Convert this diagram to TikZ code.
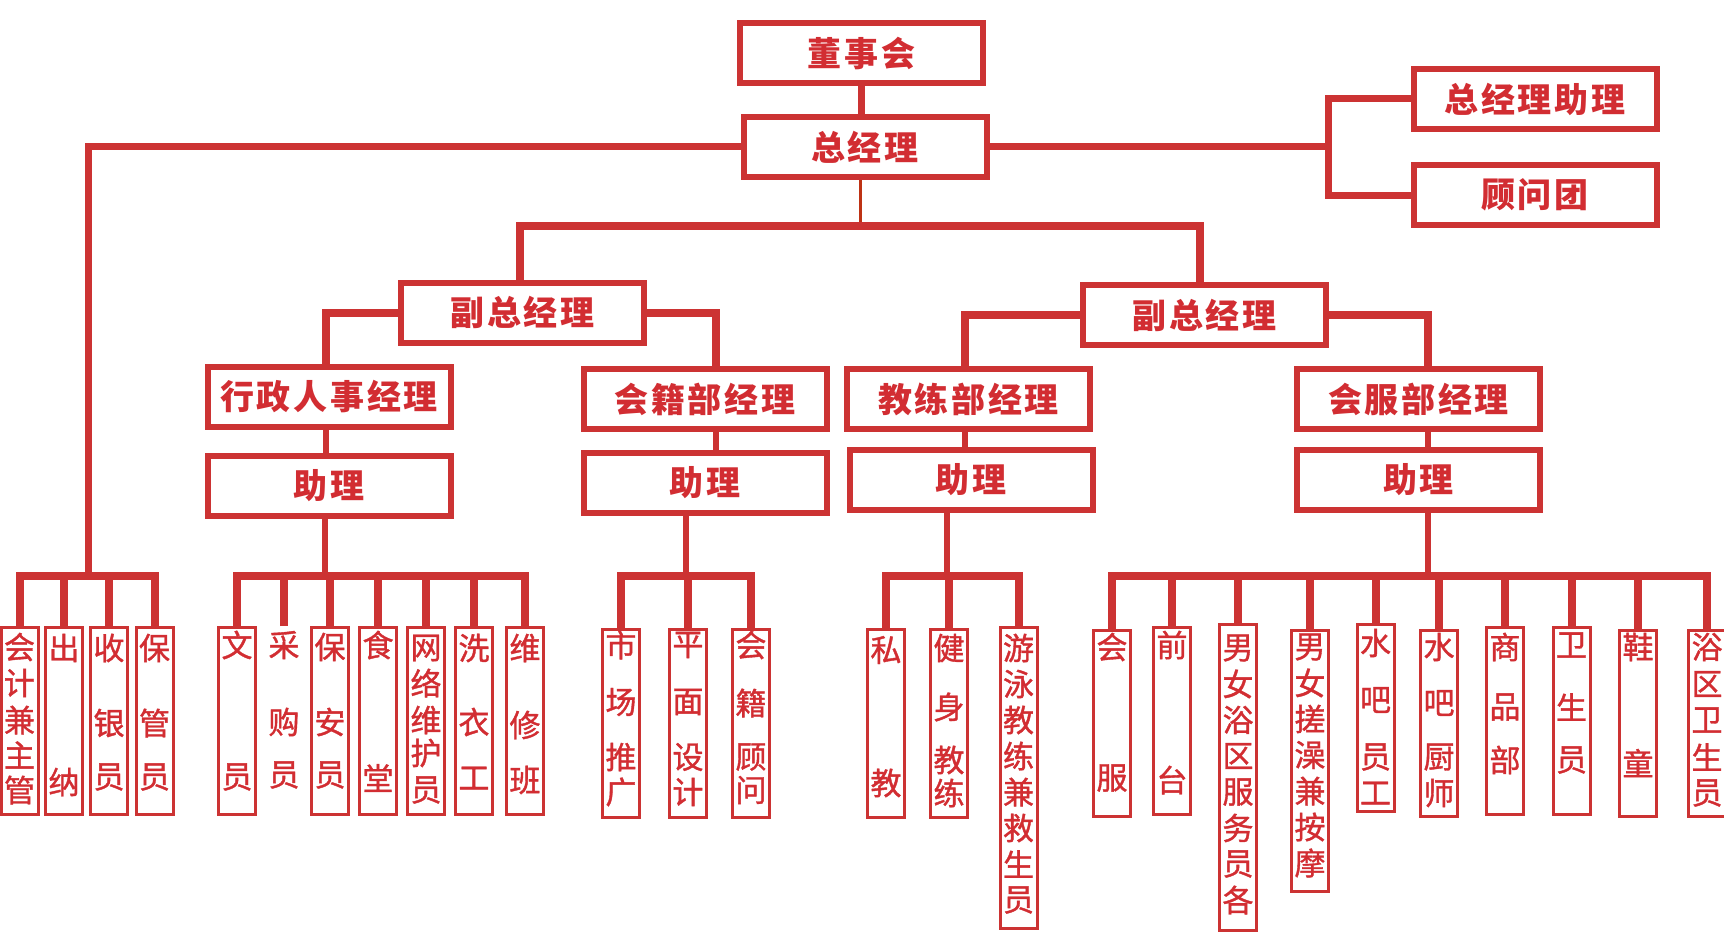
\documentclass[tikz,border=0pt]{standalone}
\usepackage{fontspec}
\newfontfamily\cjk[FakeBold=1.2]{Noto Sans CJK SC}
\newfontfamily\cjkt[LetterSpace=8]{Noto Sans CJK SC}
\definecolor{org}{RGB}{204,51,51}
\definecolor{orgtext}{RGB}{210,45,50}
\definecolor{orgdark}{RGB}{190,50,20}
\tikzset{
  box/.style={draw=org, line width=6pt, fill=white, minimum width=243pt, minimum height=60pt,
    inner sep=0pt, text=orgtext, font=\cjkt\bfseries\fontsize{34}{34}\selectfont},
  leaf/.style={draw=org, line width=3pt, minimum width=37pt, inner sep=0pt},
  leaftext/.style={text=orgtext, inner sep=0pt, font=\cjk\fontsize{31}{31}\selectfont},
  conn/.style={draw=org, line width=7pt},
  bus/.style={draw=org, line width=8pt},
  branch/.style={draw=org, line width=8pt},
  thinconn/.style={draw=orgdark, line width=3pt}
}
\newcommand\leafbox[5]{\node[leaf, minimum height={#4-#3-3}, #5] (#1) at (#2,{(#3+#4)/2}) {};}
\newcommand\leafchars[3]{\foreach \yy/\cc [count=\ii] in {#3}{\node[leaftext] (#1-\ii) at (#2,\yy) {\cc};}}
\begin{document}
\begin{tikzpicture}[x=1pt,y=-1pt]
\fill[white] (0,0) rectangle (1724,939);
\useasboundingbox (0,0) rectangle (1724,939);

% ---- top boxes
\node[box] (bod) at (861.5,53.5) {董事会};
\node[box] (gm)  at (865,147) {总经理};
\node[box] (ga)  at (1535,99) {总经理助理};
\node[box] (adv) at (1535,195) {顾问团};
\node[box] (lvp) at (522.5,312.5) {副总经理};
\node[box] (rvp) at (1204.5,315) {副总经理};
\node[box] (hr)  at (329,396.5) {行政人事经理};
\node[box] (mem) at (705,399) {会籍部经理};
\node[box] (coa) at (968.5,399) {教练部经理};
\node[box] (svc) at (1418.5,399) {会服部经理};
\node[box] (as1) at (329,485.5) {助理};
\node[box] (as2) at (705,483) {助理};
\node[box] (as3) at (971,479.5) {助理};
\node[box] (as4) at (1418.5,479.5) {助理};

% ---- leaf boxes
\leafbox{a1}{19.5}{626}{816}{}
\leafbox{a2}{64}{626}{816}{}
\leafbox{a3}{109}{626}{816}{}
\leafbox{a4}{154.5}{626}{816}{}
\leafbox{b1}{237}{626}{816}{}
\leafbox{b2}{284}{626}{816}{draw=none}
\leafbox{b3}{330}{626}{816}{}
\leafbox{b4}{378}{626}{816}{}
\leafbox{b5}{426}{626}{816}{}
\leafbox{b6}{474}{626}{816}{}
\leafbox{b7}{525}{626}{816}{}
\leafbox{c1}{621}{628}{819}{}
\leafbox{c2}{688}{628}{819}{}
\leafbox{c3}{751}{628}{819}{}
\leafbox{d1}{886}{628}{819}{}
\leafbox{d2}{949}{628}{819}{}
\leafbox{d3}{1018.5}{626}{930}{}
\leafbox{e1}{1112}{629}{818}{}
\leafbox{e2}{1172}{626}{816}{}
\leafbox{e3}{1238}{623}{932}{}
\leafbox{e4}{1310}{629}{893}{}
\leafbox{e5}{1375.5}{623}{813}{}
\leafbox{e6}{1439}{629}{818}{}
\leafbox{e7}{1505}{626}{816}{}
\leafbox{e8}{1571.5}{626}{816}{}
\leafbox{e9}{1638}{629}{818}{}
\leafbox{e10}{1707}{629}{818}{}

% ---- leaf texts
\leafchars{a1}{19.5}{647/会,683/计,720/兼,755/主,790/管}
\leafchars{a2}{64}{648/出,782/纳}
\leafchars{a3}{109}{648/收,723/银,777/员}
\leafchars{a4}{154.5}{648/保,723/管,777/员}
\leafchars{b1}{237}{645/文,777/员}
\leafchars{b2}{284}{645/采,722/购,775/员}
\leafchars{b3}{330}{647/保,722/安,775/员}
\leafchars{b4}{378}{645/食,778/堂}
\leafchars{b5}{426}{648/网,683/络,720/维,753/护,790/员}
\leafchars{b6}{474}{648/洗,722/衣,778/工}
\leafchars{b7}{525}{648/维,725/修,780/班}
\leafchars{c1}{621}{645/市,702/场,757/推,792/广}
\leafchars{c2}{688}{645/平,702/面,757/设,792/计}
\leafchars{c3}{751}{645/会,703/籍,757/顾,790/问}
\leafchars{d1}{886}{650/私,783/教}
\leafchars{d2}{949}{648/健,707/身,760/教,793/练}
\leafchars{d3}{1018.5}{648/游,684/泳,720/教,756/练,792/兼,828/救,864/生,900/员}
\leafchars{e1}{1112}{647/会,778/服}
\leafchars{e2}{1172}{645/前,780/台}
\leafchars{e3}{1238}{648/男,684/女,720/浴,756/区,792/服,828/务,864/员,900/各}
\leafchars{e4}{1310}{647/男,683/女,719/搓,755/澡,791/兼,827/按,863/摩}
\leafchars{e5}{1375.5}{643/水,700/吧,757/员,793/工}
\leafchars{e6}{1439}{647/水,703/吧,757/厨,793/师}
\leafchars{e7}{1505}{647/商,707/品,760/部}
\leafchars{e8}{1571.5}{645/卫,707/生,760/员}
\leafchars{e9}{1638}{647/鞋,763/童}
\leafchars{e10}{1707}{647/浴,684/区,720/卫,757/生,793/员}

% ---- coordinates
\coordinate (mb) at (860,226);
\coordinate (rj) at (1328,147);
\coordinate (g1) at (88,576);
\coordinate (g2) at (325,576);
\coordinate (g3) at (686,576);
\coordinate (g4) at (947,576);
\coordinate (g5) at (1428,576);
\coordinate (k1) at (326,0);
\coordinate (k2) at (716,0);
\coordinate (k3) at (965,0);
\coordinate (k4) at (1428,0);

% ---- connectors (top)
\draw[conn] (bod.south) -- (bod.south |- gm.north);
\draw[thinconn] (mb |- gm.south) -- (mb);
\draw[bus] (lvp.north -| 520,0) |- (mb) -| (rvp.north -| 1200,0);
\draw[conn] (gm.west) -| (g1);
\draw[conn] (gm.east) -- (rj);
\draw[conn] (ga.west) -| (rj) |- (adv.west);

\draw[branch] (k1 |- hr.north) |- (lvp.west);
\draw[branch] (lvp.east) -| (k2 |- mem.north);
\draw[branch] (k3 |- coa.north) |- (rvp.west);
\draw[branch] (rvp.east) -| (k4 |- svc.north);

\draw[conn, line width=6pt] (k1 |- hr.south) -- (k1 |- as1.north);
\draw[conn, line width=6pt] (k2 |- mem.south) -- (k2 |- as2.north);
\draw[conn, line width=6pt] (k3 |- coa.south) -- (k3 |- as3.north);
\draw[conn, line width=6pt] (k4 |- svc.south) -- (k4 |- as4.north);

\draw[conn, line width=6pt] (g2 |- as1.south) -- (g2);
\draw[conn, line width=6pt] (g3 |- as2.south) -- (g3);
\draw[conn, line width=6pt] (g4 |- as3.south) -- (g4);
\draw[conn, line width=6pt] (g5 |- as4.south) -- (g5);

% ---- buses
\draw[bus] (a1.north) |- (g1) -| (a4.north);
\draw[bus] (a2.north) -- (a2.north |- g1);
\draw[bus] (a3.north) -- (a3.north |- g1);

\draw[bus] (b1.north) |- (g2) -| (b7.north);
\foreach \n in {b2,b3,b4,b5,b6} {\draw[bus] (\n.north) -- (\n.north |- g2);}

\draw[bus] (c1.north) |- (g3) -| (c3.north);
\draw[bus] (c2.north) -- (c2.north |- g3);

\draw[bus] (d1.north) |- (g4) -| (d3.north);
\draw[bus] (d2.north) -- (d2.north |- g4);

\draw[bus] (e1.north) |- (g5) -| (e10.north);
\foreach \n in {e2,e3,e4,e5,e6,e7,e8,e9} {\draw[bus] (\n.north) -- (\n.north |- g5);}
\end{tikzpicture}
\end{document}
